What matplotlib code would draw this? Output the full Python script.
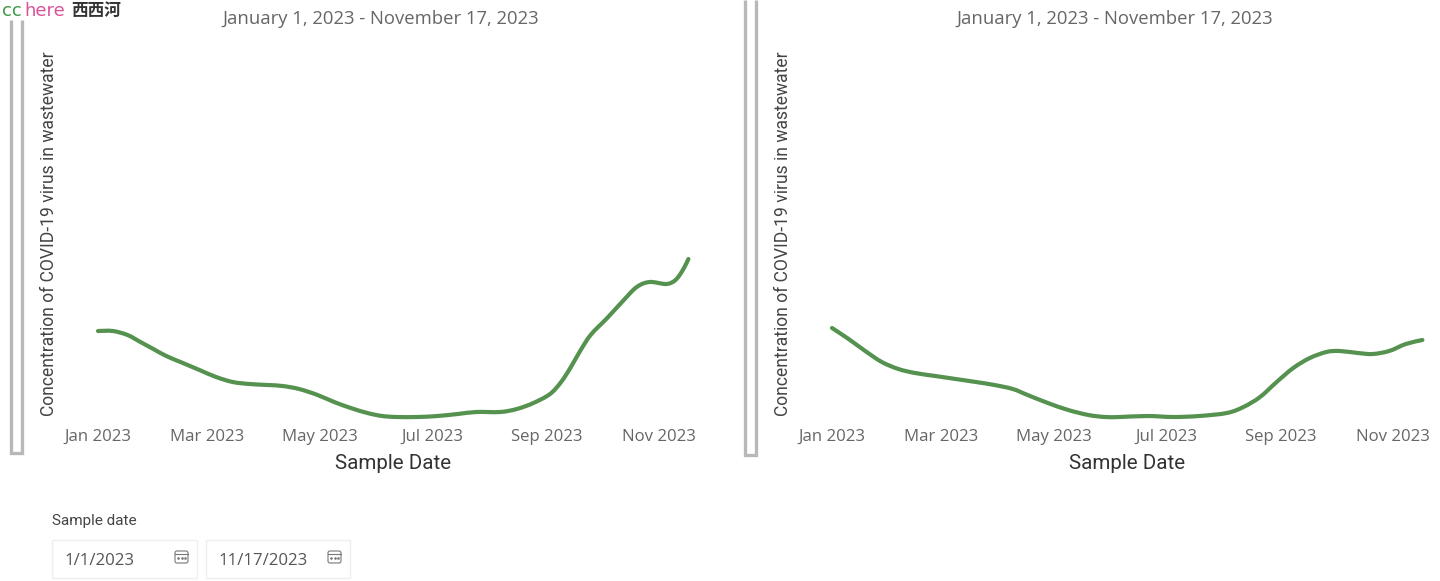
import numpy as np
import pandas as pd
import matplotlib
matplotlib.use("Agg")
import matplotlib.pyplot as plt
import matplotlib.dates as mdates
from matplotlib.patches import Rectangle, FancyBboxPatch, PathPatch
from matplotlib.path import Path

# days since 1 Jan 2023 and concentration (arbitrary units, no y scale on the original)
left_days = [0, 8, 16, 23, 30, 37, 46, 55, 64, 73, 82, 92, 100, 109, 119, 128, 137, 146, 154, 162,
             173, 184, 195, 205, 218, 227, 236, 245, 251, 256, 261, 267, 276, 285, 292, 299, 308, 313, 317, 320]
left_vals = [89, 89, 85, 78, 71, 64, 57, 50, 43, 38, 36, 35, 34, 31, 25, 18, 12, 7, 4, 3,
             3, 4, 6, 8, 8, 11, 17, 26, 38, 52, 68, 85, 102, 120, 133, 138, 136, 140, 150, 161]
right_days = [0, 9, 18, 27, 36, 45, 56, 67, 78, 88, 98, 106, 117, 128, 139, 148, 156,
              171, 185, 199, 214, 223, 232, 241, 250, 259, 268, 275, 285, 293, 302, 311, 320]
right_vals = [92, 81, 69, 58, 51, 47, 44, 41, 38, 35, 31, 25, 17, 10, 5, 3, 3,
              4, 3, 4, 7, 13, 23, 38, 52, 62, 68, 69, 67, 66, 69, 76, 80]

tick_dates = ["2023-01-01", "2023-03-01", "2023-05-01", "2023-07-01", "2023-09-01", "2023-11-01"]
tick_labels = ["Jan 2023", "Mar 2023", "May 2023", "Jul 2023", "Sep 2023", "Nov 2023"]
chart_title = "January 1, 2023 - November 17, 2023"
y_title = "Concentration of COVID-19 virus in wastewater"
x_title = "Sample Date"

W, H = 1440, 581
GREEN = "#55914f"
PX_PER_DAY = 1.845
start = pd.Timestamp("2023-01-01")

fig = plt.figure(figsize=(W / 100, H / 100), dpi=100, facecolor="white")

# page level furniture lives on an overlay in pixel coordinates
page = fig.add_axes([0, 0, 1, 1])
page.set_xlim(0, W)
page.set_ylim(H, 0)
page.axis("off")


def smooth_path(x, y):
    # the original uses a smoothed line: bezier through every read point
    x = np.asarray(x, dtype=float)
    y = np.asarray(y, dtype=float)
    px = np.r_[x[0], x, x[-1]]
    py = np.r_[y[0], y, y[-1]]
    verts = [(x[0], y[0])]
    codes = [Path.MOVETO]
    for i in range(1, len(x)):
        c1 = (px[i] + (px[i + 1] - px[i - 1]) / 6, py[i] + (py[i + 1] - py[i - 1]) / 6)
        c2 = (px[i + 1] - (px[i + 2] - px[i]) / 6, py[i + 1] - (py[i + 2] - py[i]) / 6)
        verts += [c1, c2, (x[i], y[i])]
        codes += [Path.CURVE4] * 3
    return Path(verts, codes)


def draw_chart(x0, days, vals):
    # x0 = pixel of 1 Jan, axes runs 18 px left of that and is 626 px wide
    left = x0 - 18
    ax = fig.add_axes([left / W, 1 - 420 / H, 626 / W, 380 / H])
    ax.patch.set_alpha(0)
    dates = mdates.date2num(start + pd.to_timedelta(days, unit="D"))
    ax.add_patch(PathPatch(smooth_path(dates, vals), fill=False, ec=GREEN, lw=3,
                           capstyle="round", joinstyle="round"))
    ax.set_xlim(mdates.date2num(start) - 18 / PX_PER_DAY, mdates.date2num(start) + 608 / PX_PER_DAY)
    ax.set_ylim(0, 380)
    ax.set_yticks([])
    ax.set_xticks(pd.to_datetime(tick_dates))
    ax.set_xticklabels(tick_labels, fontsize=12.1, color="#666666", family="Open Sans")
    ax.tick_params(axis="x", length=0, pad=6.7)
    for s in ax.spines.values():
        s.set_visible(False)
    ax.set_title(chart_title, fontsize=13.3, color="#666666", family="Open Sans", x=0.48, y=1.0, pad=11.7)
    ax.set_xlabel(x_title, fontsize=14.8, color="#333333", family="Roboto", labelpad=6)
    ax.set_ylabel(y_title, fontsize=12.65, color="#444444", family="Roboto")
    ax.yaxis.set_label_coords((x0 - 40 - left) / 626, 0.49)
    return ax


draw_chart(98, left_days, left_vals)
draw_chart(832, right_days, right_vals)

# grey frames at the left of each chart, open at the top
for fx, top, bottom in [(11, 20, 453), (745, 0, 455)]:
    page.plot([fx, fx, fx + 11, fx + 11], [top, bottom, bottom, top], color="#b8b8b8", lw=2.4,
              solid_joinstyle="miter", solid_capstyle="butt")

# watermark
page.text(2, 16, "cc", color="#3d9a4a", fontsize=13, family="DejaVu Sans")
page.text(24, 16, "here", color="#d9539b", fontsize=13, family="DejaVu Sans")
page.text(71, 16, "西西河", color="#333333", fontsize=12, family="Noto Sans CJK SC", weight="bold")

# date slicer
page.text(52, 521, "Sample date", fontsize=11, color="#444444", family="Roboto", va="center")
for bx, bw, label in [(52, 145, "1/1/2023"), (206, 144, "11/17/2023")]:
    page.add_patch(Rectangle((bx, 540), bw, 38, fill=False, ec="#efefef", lw=1))
    page.text(bx + 12, 561, label, fontsize=12.1, color="#555555", family="Open Sans", va="center")
    ix = bx + bw - 22
    page.add_patch(FancyBboxPatch((ix, 551), 13, 12, boxstyle="round,pad=0,rounding_size=2",
                                  fill=False, ec="#777777", lw=0.8))
    page.plot([ix, ix + 13], [554, 554], color="#777777", lw=0.8)
    page.plot([ix + 3, ix + 6.5, ix + 10], [558, 558, 558], ls="none", marker="s", ms=0.8, color="#777777")

fig.savefig("out.png", dpi=100)
